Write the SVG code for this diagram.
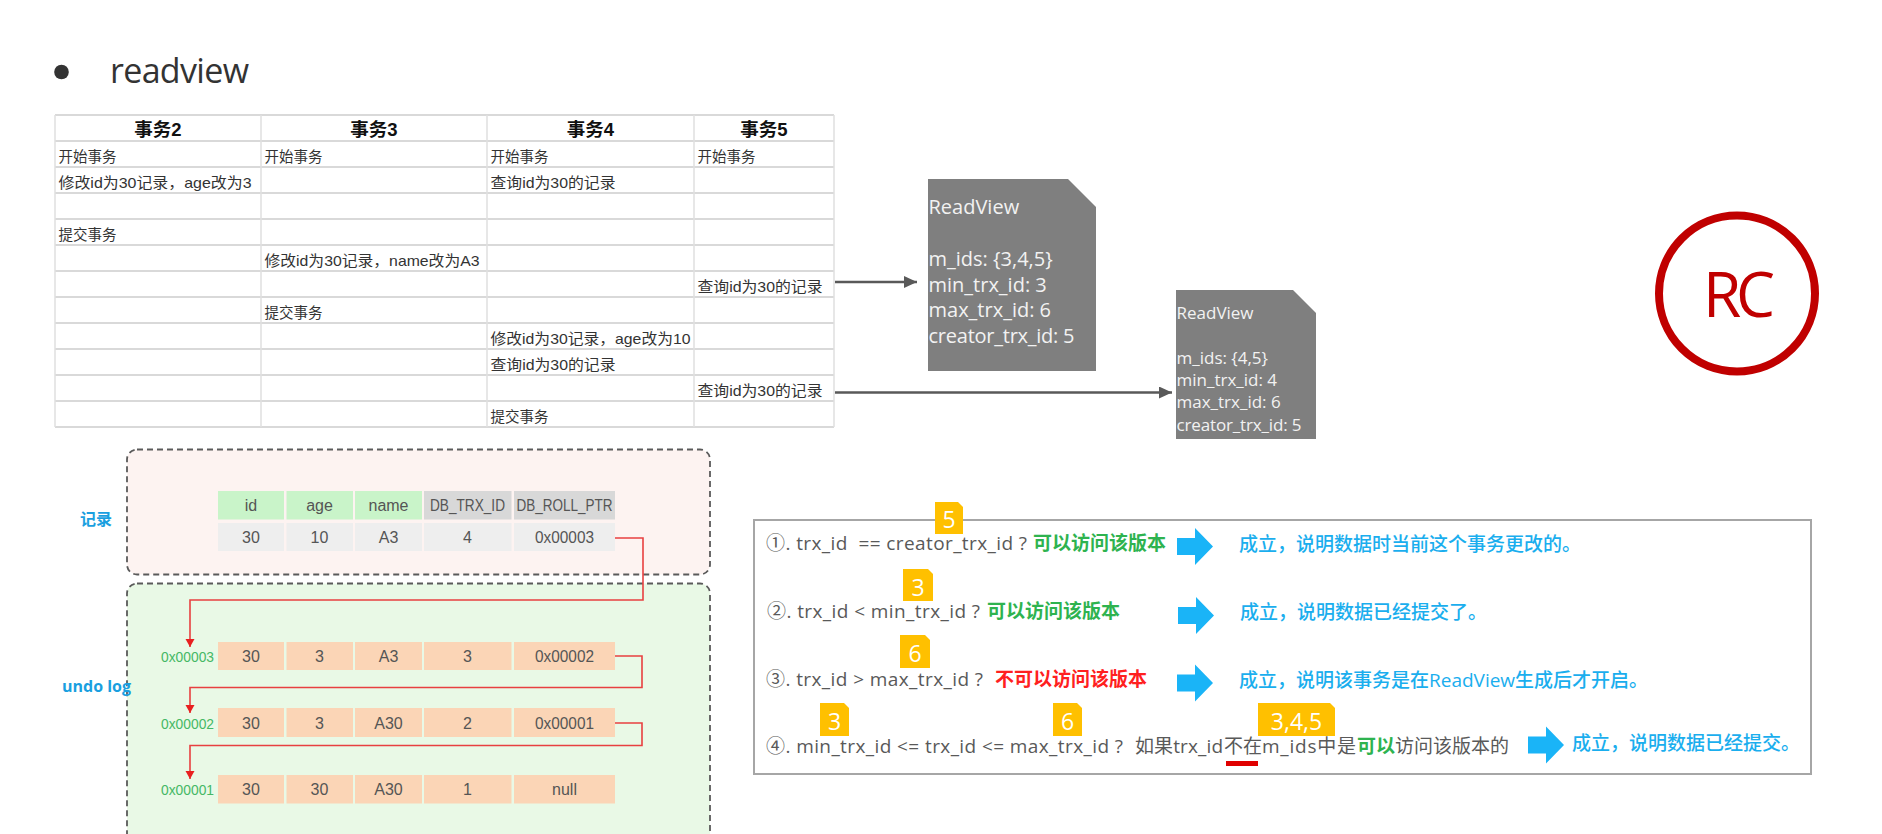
<svg xmlns="http://www.w3.org/2000/svg" width="1882" height="834" viewBox="0 0 1882 834">
<style>
.tbl-h{fill:none;stroke:#d9d9d9;stroke-width:2}
.tbl-v{fill:none;stroke:#e0e0e0;stroke-width:1.5}
.th{font-family:"Liberation Sans","Noto Sans CJK SC",sans-serif;font-size:18.5px;font-weight:bold;fill:#111;text-anchor:middle}
.td{font-family:"Liberation Sans","Noto Sans CJK SC",sans-serif;font-size:14.5px;fill:#333}
.rv1{font-family:"Open Sans","Liberation Sans",sans-serif;font-size:20px;fill:#f2f2f2}
.rv2{font-family:"Open Sans","Liberation Sans",sans-serif;font-size:17px;fill:#f2f2f2}
.rvbox{fill:#7f7f7f}
.conn{fill:none;stroke:#595959;stroke-width:2.5}
.ptr{fill:none;stroke:#e84040;stroke-width:1.6}
.dash{stroke:#5a5a5a;stroke-width:1.8;stroke-dasharray:6 4}
.rec{font-family:"Liberation Sans",sans-serif;font-size:16px;fill:#555;text-anchor:middle}
.hg{fill:#c9f4c9}
.hd{fill:#d8d8d8}
.dr{fill:#eeeeee}
.ur{fill:#fbd5b6}
.addr{font-family:"Liberation Sans",sans-serif;font-size:14px;fill:#45b865;text-anchor:end}
.lbl{font-family:"Open Sans","Noto Sans CJK SC",sans-serif;font-size:16px;font-weight:bold;fill:#1a9fe0}
.cond{font-family:"Open Sans","Noto Sans CJK SC",sans-serif;font-size:19px;fill:#595959}
.ok{font-family:"Noto Sans CJK SC",sans-serif;font-size:19px;font-weight:bold;fill:#2eb34f}
.no{font-family:"Noto Sans CJK SC",sans-serif;font-size:19px;font-weight:bold;fill:#ff2020}
.res{font-family:"Open Sans","Noto Sans CJK SC",sans-serif;font-size:19px;font-weight:500;fill:#1aaeee}
.barrow{fill:#1ab4f7}
.badge{fill:#ffc000}
.bt{font-family:"Open Sans","Liberation Sans",sans-serif;font-size:23px;fill:#ffffff;text-anchor:middle}
</style>
<defs>
<marker id="ah" markerUnits="userSpaceOnUse" markerWidth="14" markerHeight="12" refX="13" refY="6" orient="auto">
<path d="M0,0 L13,6 L0,12 Z" fill="#595959"/>
</marker>
<marker id="rh" markerUnits="userSpaceOnUse" markerWidth="10" markerHeight="10" refX="8" refY="4.5" orient="auto">
<path d="M0,0 L8,4.5 L0,9 Z" fill="#e82020"/>
</marker>
</defs>
<rect width="1882" height="834" fill="#ffffff"/>

<g id="title">
<circle cx="61.5" cy="72" r="7.3" fill="#333"/>
<text x="110" y="82.5" font-family="Open Sans, Liberation Sans, sans-serif" font-size="34" fill="#333" textLength="139">readview</text>
</g>

<g id="transaction-table">
<path class="tbl-h" d="M55,115H834M55,141H834M55,167H834M55,193H834M55,219H834M55,245H834M55,271H834M55,297H834M55,323H834M55,349H834M55,375H834M55,401H834M55,427H834"/>
<path class="tbl-v" d="M55,115V427M261,115V427M487,115V427M694,115V427M834,115V427"/>
<text class="th" x="158" y="136">事务2</text>
<text class="th" x="374" y="136">事务3</text>
<text class="th" x="590.5" y="136">事务4</text>
<text class="th" x="764" y="136">事务5</text>
<text class="td" x="58.5" y="162">开始事务</text>
<text class="td" x="264.5" y="162">开始事务</text>
<text class="td" x="490.5" y="162">开始事务</text>
<text class="td" x="697.5" y="162">开始事务</text>
<text class="td" x="58.5" y="188" textLength="193" lengthAdjust="spacingAndGlyphs">修改id为30记录，age改为3</text>
<text class="td" x="490.5" y="188" textLength="125" lengthAdjust="spacingAndGlyphs">查询id为30的记录</text>
<text class="td" x="58.5" y="240">提交事务</text>
<text class="td" x="264.5" y="266" textLength="215" lengthAdjust="spacingAndGlyphs">修改id为30记录，name改为A3</text>
<text class="td" x="697.5" y="292" textLength="125" lengthAdjust="spacingAndGlyphs">查询id为30的记录</text>
<text class="td" x="264.5" y="318">提交事务</text>
<text class="td" x="490.5" y="344" textLength="200" lengthAdjust="spacingAndGlyphs">修改id为30记录，age改为10</text>
<text class="td" x="490.5" y="370" textLength="125" lengthAdjust="spacingAndGlyphs">查询id为30的记录</text>
<text class="td" x="697.5" y="396" textLength="125" lengthAdjust="spacingAndGlyphs">查询id为30的记录</text>
<text class="td" x="490.5" y="422">提交事务</text>
</g>

<g id="readview-1">
<path class="rvbox" d="M928,179H1068L1096,207V371H928Z"/>
<text class="rv1" x="928.5" y="214">ReadView</text>
<text class="rv1" x="928.5" y="266">m_ids: {3,4,5}</text>
<text class="rv1" x="928.5" y="291.5">min_trx_id: 3</text>
<text class="rv1" x="928.5" y="317">max_trx_id: 6</text>
<text class="rv1" x="928.5" y="343" textLength="146">creator_trx_id: 5</text>
</g>

<g id="readview-2">
<path class="rvbox" d="M1176,290H1293L1316,313V439H1176Z"/>
<text class="rv2" x="1176.5" y="319">ReadView</text>
<text class="rv2" x="1176.5" y="364">m_ids: {4,5}</text>
<text class="rv2" x="1176.5" y="386">min_trx_id: 4</text>
<text class="rv2" x="1176.5" y="408">max_trx_id: 6</text>
<text class="rv2" x="1176.5" y="431" textLength="125">creator_trx_id: 5</text>
</g>

<g id="rc-badge">
<circle cx="1737" cy="293.5" r="78" fill="none" stroke="#c00000" stroke-width="8"/>
<text x="1739" y="317" font-family="Open Sans, Liberation Sans, sans-serif" font-size="62" fill="#c00000" text-anchor="middle" textLength="72">RC</text>
</g>

<g id="record-area">
<rect class="dash" x="127" y="449.5" width="583" height="125" rx="10" fill="#fdf3f1"/>
<text class="lbl" x="80" y="525">记录</text>
<rect class="hg" x="218" y="491" width="66" height="28.5"/>
<rect class="hg" x="286.5" y="491" width="66.5" height="28.5"/>
<rect class="hg" x="355" y="491" width="67" height="28.5"/>
<rect class="hd" x="424" y="491" width="87.5" height="28.5"/>
<rect class="hd" x="514" y="491" width="101" height="28.5"/>
<rect class="dr" x="218" y="523" width="66" height="28"/>
<rect class="dr" x="286.5" y="523" width="66.5" height="28"/>
<rect class="dr" x="355" y="523" width="67" height="28"/>
<rect class="dr" x="424" y="523" width="87.5" height="28"/>
<rect class="dr" x="514" y="523" width="101" height="28"/>
<text class="rec" x="251" y="511">id</text>
<text class="rec" x="319.5" y="511">age</text>
<text class="rec" x="388.5" y="511">name</text>
<text class="rec" x="467.5" y="511" textLength="75" lengthAdjust="spacingAndGlyphs">DB_TRX_ID</text>
<text class="rec" x="564.5" y="511" textLength="96" lengthAdjust="spacingAndGlyphs">DB_ROLL_PTR</text>
<text class="rec" x="251" y="543">30</text>
<text class="rec" x="319.5" y="543">10</text>
<text class="rec" x="388.5" y="543">A3</text>
<text class="rec" x="467.5" y="543">4</text>
<text class="rec" x="564.5" y="543" textLength="59" lengthAdjust="spacingAndGlyphs">0x00003</text>
</g>

<g id="undo-log-area">
<rect class="dash" x="127" y="583.5" width="583" height="275" rx="10" fill="#e9f9e6"/>
<text class="lbl" x="62" y="692">undo log</text>
<text class="addr" x="214" y="662" textLength="53" lengthAdjust="spacingAndGlyphs">0x00003</text>
<rect class="ur" x="218" y="642" width="66" height="28"/>
<rect class="ur" x="286.5" y="642" width="66.5" height="28"/>
<rect class="ur" x="355" y="642" width="67" height="28"/>
<rect class="ur" x="424" y="642" width="87.5" height="28"/>
<rect class="ur" x="514" y="642" width="101" height="28"/>
<text class="rec" x="251" y="662">30</text>
<text class="rec" x="319.5" y="662">3</text>
<text class="rec" x="388.5" y="662">A3</text>
<text class="rec" x="467.5" y="662">3</text>
<text class="rec" x="564.5" y="662" textLength="59" lengthAdjust="spacingAndGlyphs">0x00002</text>
<text class="addr" x="214" y="728.5" textLength="53" lengthAdjust="spacingAndGlyphs">0x00002</text>
<rect class="ur" x="218" y="708" width="66" height="29"/>
<rect class="ur" x="286.5" y="708" width="66.5" height="29"/>
<rect class="ur" x="355" y="708" width="67" height="29"/>
<rect class="ur" x="424" y="708" width="87.5" height="29"/>
<rect class="ur" x="514" y="708" width="101" height="29"/>
<text class="rec" x="251" y="728.5">30</text>
<text class="rec" x="319.5" y="728.5">3</text>
<text class="rec" x="388.5" y="728.5">A30</text>
<text class="rec" x="467.5" y="728.5">2</text>
<text class="rec" x="564.5" y="728.5" textLength="59" lengthAdjust="spacingAndGlyphs">0x00001</text>
<text class="addr" x="214" y="795" textLength="53" lengthAdjust="spacingAndGlyphs">0x00001</text>
<rect class="ur" x="218" y="775" width="66" height="28.5"/>
<rect class="ur" x="286.5" y="775" width="66.5" height="28.5"/>
<rect class="ur" x="355" y="775" width="67" height="28.5"/>
<rect class="ur" x="424" y="775" width="87.5" height="28.5"/>
<rect class="ur" x="514" y="775" width="101" height="28.5"/>
<text class="rec" x="251" y="795">30</text>
<text class="rec" x="319.5" y="795">30</text>
<text class="rec" x="388.5" y="795">A30</text>
<text class="rec" x="467.5" y="795">1</text>
<text class="rec" x="564.5" y="795">null</text>
</g>

<g id="connectors">
<line class="conn" x1="835" y1="282" x2="917" y2="282" marker-end="url(#ah)"/>
<line class="conn" x1="835" y1="392.5" x2="1172" y2="392.5" marker-end="url(#ah)"/>
<path class="ptr" d="M615,538H643V600H190V647" marker-end="url(#rh)"/>
<path class="ptr" d="M615,656H642V687.5H190V713" marker-end="url(#rh)"/>
<path class="ptr" d="M615,723H642V745.5H190V779" marker-end="url(#rh)"/>
</g>

<g id="conditions">
<rect x="754" y="520" width="1057" height="254" fill="#ffffff" stroke="#a6a6a6" stroke-width="2"/>
<text class="cond" x="766" y="550" textLength="261" xml:space="preserve">①. trx_id  == creator_trx_id ?</text>
<text class="ok" x="1033" y="550">可以访问该版本</text>
<polygon class="barrow" points="1177,538 1195,538 1195,528 1213,546.5 1195,565 1195,555 1177,555"/>
<text class="res" x="1239" y="551">成立，说明数据时当前这个事务更改的。</text>
<path class="badge" d="M935,502H958L963,507V534H935Z"/>
<text class="bt" x="949" y="528">5</text>

<text class="cond" x="767" y="618" textLength="213">②. trx_id &lt; min_trx_id ?</text>
<text class="ok" x="987" y="618">可以访问该版本</text>
<polygon class="barrow" points="1178,607 1196,607 1196,597 1214,615.5 1196,634 1196,624 1178,624"/>
<text class="res" x="1240" y="618.5">成立，说明数据已经提交了。</text>
<path class="badge" d="M903,569H928L933,574V601H903Z"/>
<text class="bt" x="918" y="595.5">3</text>

<text class="cond" x="766" y="686" textLength="217">③. trx_id &gt; max_trx_id ?</text>
<text class="no" x="995" y="686">不可以访问该版本</text>
<polygon class="barrow" points="1177,674.5 1195,674.5 1195,664.5 1213,683 1195,701.5 1195,691.5 1177,691.5"/>
<text class="res" x="1239" y="686.5">成立，说明该事务是在ReadView生成后才开启。</text>
<path class="badge" d="M900,635H925L930,640V668H900Z"/>
<text class="bt" x="915" y="661.5">6</text>

<text class="cond" x="766" y="753" textLength="357">④. min_trx_id &lt;= trx_id &lt;= max_trx_id ?</text>
<text class="cond" x="1135" y="753" textLength="88">如果trx_id</text>
<text class="cond" x="1224" y="753">不在</text>
<rect x="1226" y="761" width="32" height="5" fill="#e00000"/>
<text class="cond" x="1262" y="753" textLength="94">m_ids中是</text>
<text class="ok" x="1357" y="753" font-weight="normal">可以</text>
<text class="cond" x="1395" y="753">访问该版本的</text>
<polygon class="barrow" points="1528,736.5 1546,736.5 1546,726.5 1564,745 1546,763.5 1546,753.5 1528,753.5"/>
<text class="res" x="1572" y="750">成立，说明数据已经提交。</text>
<path class="badge" d="M820,703H844L849,708V736H820Z"/>
<text class="bt" x="834.5" y="729.5">3</text>
<path class="badge" d="M1053,703H1077L1082,708V736H1053Z"/>
<text class="bt" x="1067.5" y="729.5">6</text>
<path class="badge" d="M1258,703H1330L1335,708V736H1258Z"/>
<text class="bt" x="1296.5" y="729.5">3,4,5</text>
</g>
</svg>
